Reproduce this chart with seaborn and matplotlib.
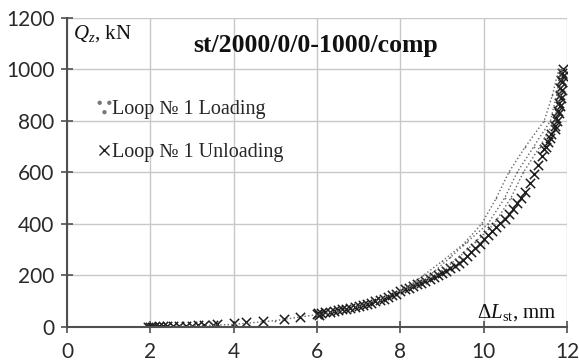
import numpy as np
import pandas as pd
import matplotlib
matplotlib.use("Agg")
import matplotlib.pyplot as plt
from matplotlib.lines import Line2D
import seaborn as sns


# DATA

unload_x = [1.95, 2.0, 2.05, 2.1, 2.2, 2.3, 2.4, 2.55, 2.7, 2.85, 3.0, 3.15, 3.3, 3.5, 3.6,
            4.0, 4.3, 4.7, 5.2, 5.6, 6.0, 6.02, 6.05,
            6.1, 6.2, 6.3, 6.4, 6.5, 6.6, 6.7, 6.8, 6.9, 7.0, 7.1, 7.2, 7.3, 7.4, 7.5, 7.6,
            7.7, 7.8, 7.9, 8.0, 8.1, 8.2, 8.3, 8.4, 8.5, 8.6, 8.7, 8.8, 8.9, 9.0, 9.1, 9.2,
            9.3, 9.4, 9.5, 9.6, 9.7, 9.8, 9.9, 10.0, 10.1, 10.2, 10.3, 10.4, 10.5, 10.6, 10.7,
            10.8, 10.9, 11.0, 11.1, 11.2, 11.3, 11.4, 11.5, 11.6, 11.7, 11.75, 11.8, 11.83,
            11.85, 11.87, 11.88, 11.9, 11.9, 11.88, 11.86, 11.84, 11.82, 11.8,
            11.78, 11.74, 11.7, 11.62, 11.55, 11.45]
unload_y = [0, 0, 1, 1, 2, 2, 3, 3, 4, 4, 5, 6, 7, 9, 10,
            16, 20, 22, 30, 38, 50, 56, 47,
            55, 57, 60, 62, 65, 68, 71, 74, 78, 82, 86, 90, 94, 99, 104, 110,
            116, 123, 130, 140, 146, 152, 160, 166, 172, 180, 187, 194, 200, 208, 218, 228,
            238, 250, 262, 276, 290, 306, 322, 340, 356, 372, 388, 402, 420, 440, 460,
            480, 500, 525, 560, 595, 630, 665, 700, 735, 770, 800, 830, 860,
            890, 920, 950, 975, 1000, 985, 960, 930, 900, 870,
            840, 810, 780, 750, 720, 690]

load_a_x = [2.0, 2.5, 3.0, 3.5, 4.0, 5.0, 6.0, 6.5, 7.0, 7.5, 8.0, 8.3, 8.55, 9.0, 9.5,
            9.95, 10.3, 10.6, 11.0, 11.45, 11.65, 11.8]
load_a_y = [0, 2, 4, 7, 10, 25, 48, 62, 80, 105, 140, 170, 200, 255, 320,
            400, 500, 600, 700, 800, 900, 1000]
load_b_x = [8.0, 8.7, 9.2, 9.6, 10.1, 10.5, 10.8, 11.2, 11.6, 11.75, 11.85]
load_b_y = [138, 200, 270, 330, 400, 500, 600, 700, 800, 900, 1000]
load_c_x = [8.2, 8.85, 9.4, 9.8, 10.25, 10.65, 10.95, 11.35, 11.7, 11.82, 11.88]
load_c_y = [150, 200, 270, 330, 400, 500, 600, 700, 800, 900, 1000]

x_ticks = [0, 2, 4, 6, 8, 10, 12]
y_ticks = [0, 200, 400, 600, 800, 1000, 1200]

title = "st/2000/0/0-1000/comp"


# FRAMES

unload = pd.DataFrame({"dL": unload_x, "Q": unload_y})
load = pd.concat([
    pd.DataFrame({"dL": load_a_x, "Q": load_a_y, "trace": "a"}),
    pd.DataFrame({"dL": load_b_x, "Q": load_b_y, "trace": "b"}),
    pd.DataFrame({"dL": load_c_x, "Q": load_c_y, "trace": "c"}),
])


# PLOT

sns.set_theme(style="whitegrid")
plt.rcParams["font.family"] = ["Lato", "DejaVu Sans"]
plt.rcParams["mathtext.fontset"] = "custom"
plt.rcParams["mathtext.rm"] = "Liberation Serif"
plt.rcParams["mathtext.it"] = "Liberation Serif:italic"

fig = plt.figure(figsize=(5.79, 3.61), dpi=100)
ax = fig.add_axes([0.1157, 0.0942, 0.8636, 0.8560])

sns.lineplot(data=load, x="dL", y="Q", units="trace", estimator=None, sort=False,
             color="#666666", linestyle=":", linewidth=1.0, marker=".", markersize=2.5,
             markeredgewidth=0, ax=ax, legend=False)
sns.scatterplot(data=unload, x="dL", y="Q", marker="x", color="#1e1e1e", s=45,
                linewidth=1.1, ax=ax, legend=False)

ax.set_xlim(0, 12)
ax.set_ylim(0, 1200)
ax.set_xticks(x_ticks)
ax.set_yticks(y_ticks)
ax.set_xlabel("")
ax.set_ylabel("")
ax.grid(True, color="#c8c8c8", linewidth=1.0)
ax.set_axisbelow(True)

for side in ["top", "right"]:
    ax.spines[side].set_visible(False)
for side in ["left", "bottom"]:
    ax.spines[side].set_visible(True)
    ax.spines[side].set_color("#505050")
    ax.spines[side].set_linewidth(1.5)

ax.tick_params(axis="both", which="major", direction="inout", length=8, width=1.2,
               color="#505050", labelsize=15, labelcolor="#2a2a2a", pad=5,
               left=True, bottom=True)
ax.tick_params(axis="x", pad=7)

serif = ["Liberation Serif", "DejaVu Serif"]
ax.text(0.012, 0.985, "$Q_z$, kN", transform=ax.transAxes, fontsize=15,
        family=serif, va="top", ha="left", color="#111111")
ax.text(0.498, 0.91, title, transform=ax.transAxes, fontsize=18.5, fontweight="bold",
        family=serif, va="center", ha="center", color="#111111")
ax.text(0.98, 0.012, "$\\Delta L_{\\rm st}$, mm", transform=ax.transAxes, fontsize=15,
        family=serif, va="bottom", ha="right", color="#111111")

handles = [
    Line2D([], [], linestyle="none", marker="$\u2235$", markersize=9, color="#777777"),
    Line2D([], [], linestyle="none", marker="x", markersize=7, markeredgewidth=1.0,
           color="#1e1e1e"),
]
ax.legend(handles, ["Loop \u2116 1 Loading", "Loop \u2116 1 Unloading"],
          loc="upper left", bbox_to_anchor=(0.045, 0.76), frameon=False,
          prop={"family": serif, "size": 14.5}, handlelength=0.6, handletextpad=0.1,
          labelspacing=1.15, borderaxespad=0)

fig.savefig("out.png", dpi=100, facecolor="white")
